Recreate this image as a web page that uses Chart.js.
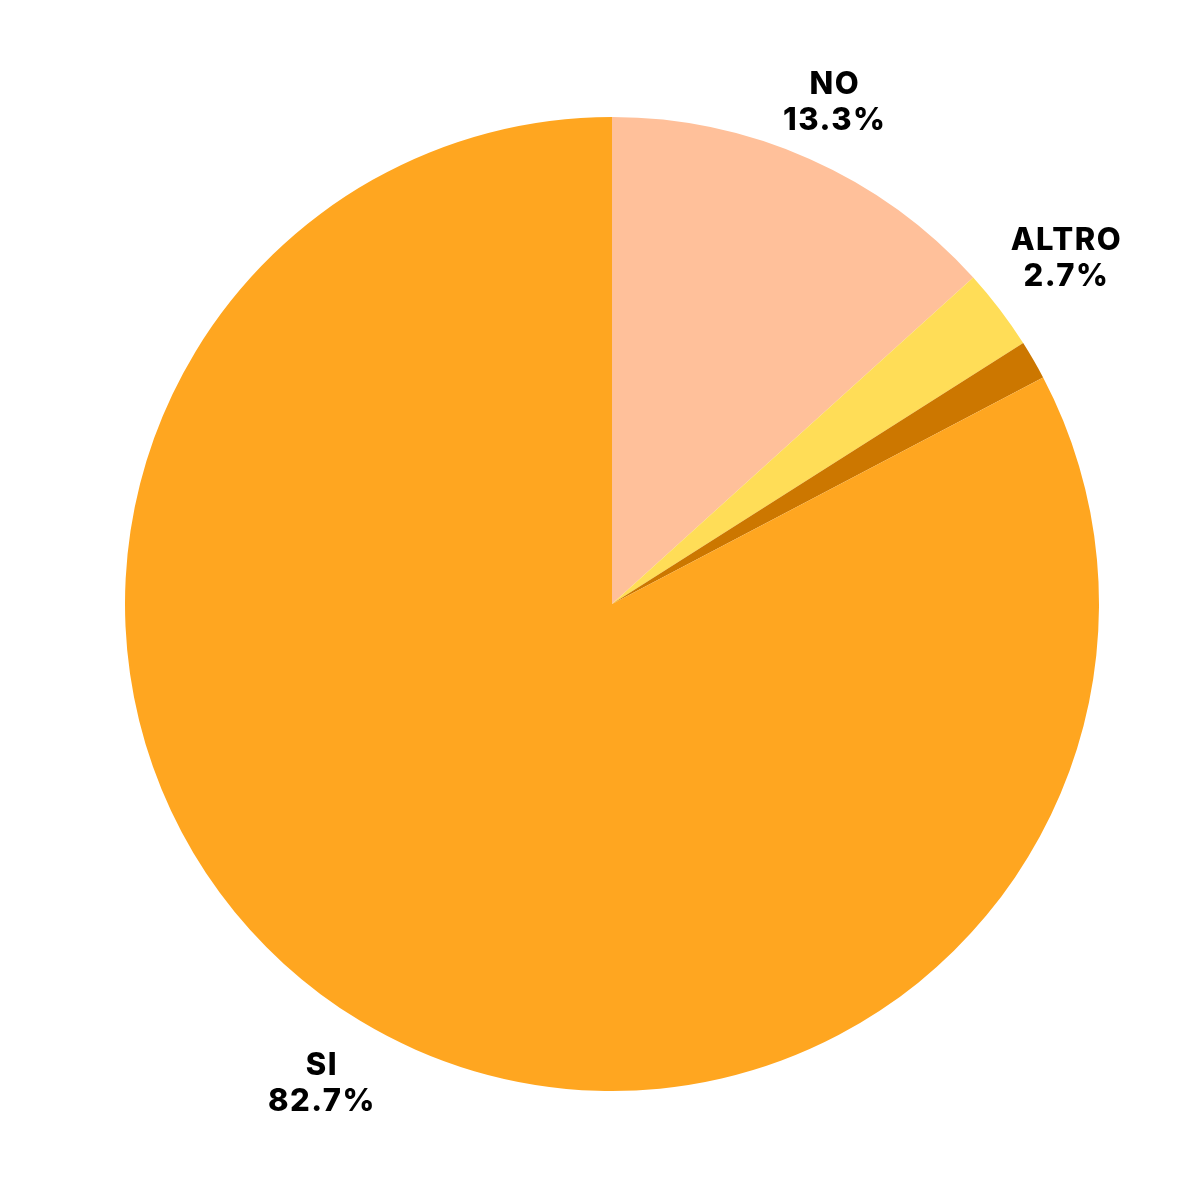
<!DOCTYPE html>
<html>
<head>
<meta charset="utf-8">
<script src="https://cdn.jsdelivr.net/npm/chart.js@4"></script>
<style>
html,body{margin:0;padding:0;background:#fff;}
#wrap{width:1200px;height:1200px;}
</style>
</head>
<body>
<div id="wrap"><canvas id="c" width="1200" height="1200"></canvas></div>
<script>
const categories = ["NO", "ALTRO", "", "SI"];
const values = [13.3, 2.7, 1.3, 82.7];
const valueLabels = ["13.3%", "2.7%", "", "82.7%"];
const colors = ["#FFC09A", "#FFDD57", "#CC7700", "#FFA620"];
const labelOffsets = [62, 84, 0, 74];

const labelPlugin = {
  id: 'outerLabels',
  afterDatasetsDraw(chart) {
    const ctx = chart.ctx;
    const meta = chart.getDatasetMeta(0);
    ctx.save();
    ctx.fillStyle = '#000';
    ctx.font = '800 31px Inter, "Noto Sans", sans-serif';
    try { ctx.letterSpacing = '1.5px'; } catch (e) {}
    ctx.textAlign = 'center';
    ctx.textBaseline = 'middle';
    meta.data.forEach((arc, i) => {
      if (!categories[i]) return;
      const mid = (arc.startAngle + arc.endAngle) / 2;
      const r = arc.outerRadius + labelOffsets[i];
      const x = arc.x + Math.cos(mid) * r;
      const y = arc.y + Math.sin(mid) * r;
      ctx.fillText(categories[i], x, y - 18);
      ctx.fillText(valueLabels[i], x, y + 18);
    });
    ctx.restore();
  }
};

new Chart(document.getElementById('c'), {
  type: 'pie',
  data: {
    labels: categories,
    datasets: [{
      data: values,
      backgroundColor: colors,
      borderWidth: 0
    }]
  },
  options: {
    responsive: false,
    animation: false,
    layout: { padding: { left: 125, right: 101, top: 117, bottom: 109 } },
    plugins: { legend: { display: false }, tooltip: { enabled: false } }
  },
  plugins: [labelPlugin]
});
</script>
</body>
</html>
